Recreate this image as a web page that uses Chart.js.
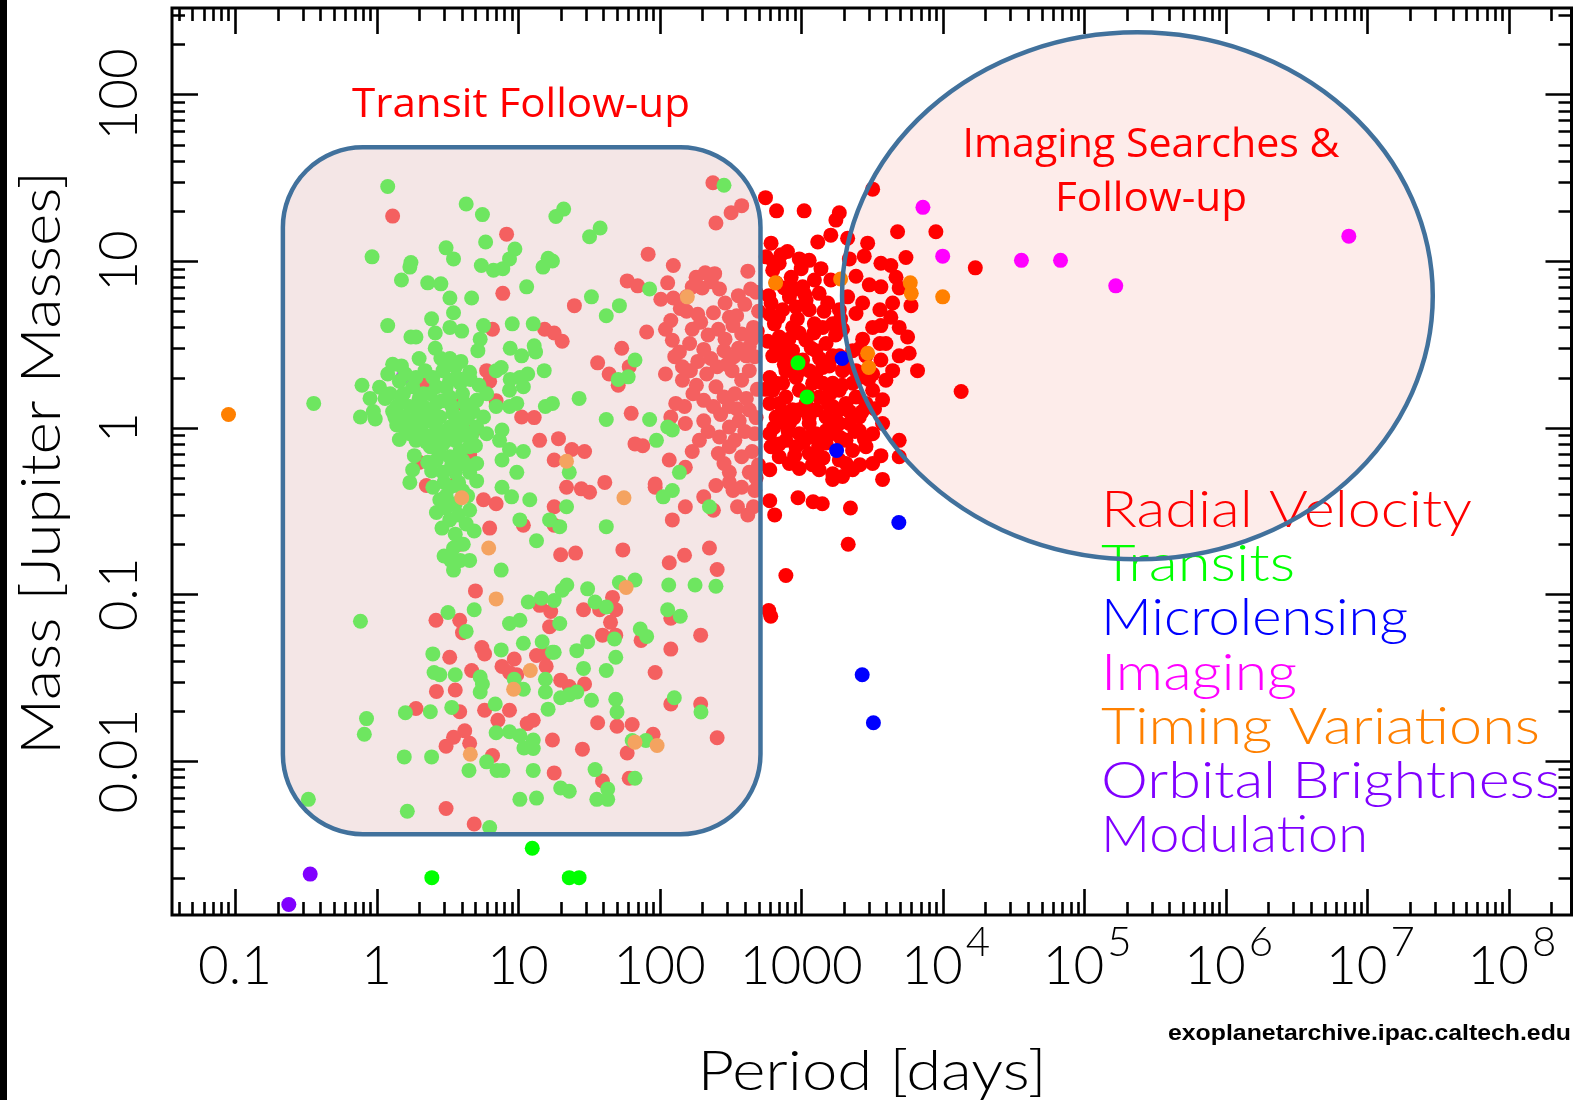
<!DOCTYPE html>
<html>
<head>
<meta charset="utf-8">
<script src="https://cdn.jsdelivr.net/npm/chart.js@4.4.0/dist/chart.umd.min.js"></script>
<style>
  html, body { margin: 0; padding: 0; background: #fff; }
  #wrap { width: 1579px; height: 1100px; }
</style>
</head>
<body>
<div id="wrap"><canvas id="chart" width="1579" height="1100"></canvas></div>
<script>
// [period (days), mass (Jupiter masses)]
const radialVelocity = [
  [560,24],[670,20],[1050,20],[1860,19.5],[1760,17.6],[1620,14.3],[1310,13],[3200,27],[4800,15],[8950,15],
  [5500,10.5],[3660,9.7],[4300,9.4],[2950,12.8],[2790,10.7],[2130,13.7],[2190,10.3],[2440,8.1],[3030,7.2],[3660,7.0],
  [4680,8],[4930,6.9],[5970,5.4],[4300,4.6],[3660,4.1],[4930,4.0],[5650,3.5],[3600,3.2],[2720,3.4],[2440,4.85],
  [2130,6.1],[1620,7.7],[1540,5.6],[1240,7.7],[1025,7.0],[850,8],[760,6.9],[613,12.8],[720,10.9],[800,11.4],
  [970,10.3],[1140,10.1],[630,8.8],[700,9.7],[613,5.6],[740,5.1],[647,4.2],[920,5.3],[1140,5.1],[1240,4.2],
  [1420,4.0],[870,4.0],[970,3.7],[1080,3.35],[1270,2.9],[1500,3.2],[1670,2.7],[1960,2.2],[2310,1.85],[1860,1.68],
  [1500,1.53],[1670,1.34],[2075,1.4],[2440,1.53],[3200,1.68],[3760,1.47],[3970,1.93],[4430,2.2],[3660,2.55],[4930,2.7],
  [5800,2.8],[6640,2.2],[3200,2.1],[2575,2.0],[1270,2.1],[1205,1.85],[780,2.2],[630,2.7],[665,1.85],[780,1.53],
  [600,1.4],[665,1.16],[826,1.06],[970,0.92],[1140,1.06],[1270,1.28],[1860,1.06],[2190,1.06],[1760,0.92],[2075,0.84],
  [2310,0.73],[1860,0.64],[2310,0.56],[1670,0.53],[1140,0.70],[1270,0.67],[920,0.77],[826,0.61],[970,0.57],[3760,1.06],
  [3200,0.92],[4930,0.84],[3660,0.68],[4930,0.67],[3760,0.49],[1670,0.49],[13500,1.65],[600,0.92],[613,0.77],
  [700,3.5],[870,2.9],[1025,2.55],[740,1.85],[970,1.68],[870,1.28],[1080,1.4],[970,2.2],[1420,2.3],[1670,1.85],
  [1270,0.92],[1500,0.81],[700,0.67],[780,0.84],
  [565,10.6],[665,7.4],[826,6.1],[1083,5.8],[1340,6.4],[1860,5.1],[1670,4.2],[1960,3.9],[2310,2.9],[2870,2.7],
  [1860,2.7],[1420,1.85],[1140,2.2],[920,2.0],[780,2.7],[647,3.2],[600,2.0],[630,1.68],[700,1.4],[970,1.28],
  [1340,1.53],[1140,1.16],[1500,1.16],[1860,1.28],[2575,1.16],[2870,1.4],[2575,0.96],[1500,0.96],[1140,0.88],[780,1.06],
  [2075,0.61],[1340,0.56],[2870,0.77],[3200,0.61],[1960,0.51],[2440,2.2],[3970,3.2],[3200,4.0],[2720,5.6],[3600,5.1],
  [4430,5.6],[600,0.365],[650,0.3],[950,0.38],[1215,0.36],[1410,0.35],[2230,0.33],[2150,0.2],[780,0.13],[590,0.08],
  [610,0.074],[17000,9.1],
  [590,6.2],[640,9.8],[690,4.6],[720,3.0],[760,2.4],[820,3.4],[860,2.2],[900,6.8],[940,4.5],[1000,9],
  [1060,6.3],[1180,3.0],[1230,3.7],[1350,2.6],[1380,9],[1450,5.0],[1580,2.35],[1600,1.6],[1700,1.1],[1750,3.6],
  [1900,4.5],[1950,1.8],[2050,2.45],[2200,1.25],[2400,0.95],[2600,3.0],[2700,1.25],[2800,0.85],[3000,1.95],[640,1.0],
  [700,0.8],[740,1.25],[810,0.95],[890,1.15],[900,0.68],[1040,0.82],[1100,1.6],[1200,0.6],[1330,0.78],[1430,0.66],
  [1560,1.38],[1900,0.87],[2600,0.6],[3300,1.3],[560,1.7],[580,3.3],[600,4.8],[600,0.56],
  [1.3,18.6],[8.3,14.5],[7.8,6.4],[6.6,3.9],[15.4,3.9],[18,3.7],[20.5,3.3],[25,5.4],[83,11],[59,7.6],
  [70,7.1],[102,5.9],[125,6.0],[155,6.1],[114,7.4],[125,9.4],[181,8.0],[210,8.5],[245,8.4],[170,7.0],
  [200,6.9],[232,7.5],[265,6.8],[155,5.0],[186,4.8],[250,16.9],[320,19.5],[380,21.5],[238,29.5],[311,4.6],
  [350,4.7],[400,5.5],[460,4.0],[440,6.8],[81,3.75],[110,3.9],[123,3.35],[138,2.85],[163,3.2],[205,2.95],
  [186,2.5],[145,2.32],[128,2.67],[110,2.1],[145,1.93],[182,1.8],[215,2.1],[250,1.76],[172,1.6],[205,1.46],
  [240,1.34],[285,1.53],[311,1.34],[340,1.6],[380,1.93],[430,2.2],[335,2.67],[285,2.9],[430,3.06],[380,3.65],
  [470,2.67],[325,2.2],[255,2.32],[150,1.34],[130,1.4],[120,1.16],[152,1.06],[205,1.1],[311,1.01],[365,1.1],
  [430,1.28],[470,0.92],[340,0.84],[265,0.88],[191,0.84],[380,0.67],[285,0.61],[430,0.54],[311,0.54],[470,0.42],
  [380,0.44],[311,0.47],[205,0.385],[152,0.336],[355,0.336],[460,0.336],[117,0.64],[93,0.44],[123,0.28],[240,0.32],
  [152,0.58],[311,0.77],[36.5,2.45],[44,2.1],[54,3.0],[61,2.32],[51,1.8],[63,1.22],[67,0.8],[76,0.78],
  [93,0.46],[41,0.47],[10.6,1.16],[13,1.15],[14.2,0.84],[19.3,0.86],[24,0.74],[29.5,0.72],[18,0.64],[28,0.43],
  [32,0.41],[22,0.44],[18,0.336],[10.9,0.26],[18,0.26],[6.3,0.25],[5.7,0.37],[7,0.35],[2.25,0.45],[2.0,0.62],
  [4.55,0.69],[4.9,0.97],[4.05,1.4],[2.15,1.85],[6.0,2.2],[6.3,1.9],[7.0,1.45],[3.45,0.45],
  [120,4.4],[140,5.2],[170,3.9],[195,4.3],[220,3.6],[260,3.9],[290,3.4],[330,4.1],[360,3.0],[410,2.7],
  [450,3.4],[490,3.8],[500,5.0],[480,6.5],[420,8.7],[360,6.2],[290,5.6],[240,4.9],[165,2.2],[230,2.6],
  [300,2.4],[270,1.2],[350,1.3],[410,1.5],[490,1.7],[480,1.15],[400,0.95],[220,0.95],[170,0.72],[260,0.7],
  [450,0.72],[500,0.6],[330,0.42],[250,0.45],[420,0.3],[480,0.5],
  [3.87,0.2],[5.0,0.105],[2.63,0.07],[3.87,0.07],[4.05,0.059],[3.29,0.042],[4.7,0.035],[5.55,0.048],[5.8,0.044],[7.7,0.037],
  [9.4,0.041],[8.7,0.034],[9.8,0.033],[14.2,0.086],[17,0.079],[16.7,0.064],[13.5,0.043],[15.8,0.037],[15.6,0.044],[20,0.0306],
  [23,0.028],[29.5,0.029],[29,0.081],[37.7,0.081],[46.5,0.096],[49,0.081],[45,0.068],[39.5,0.057],[49,0.057],[74,0.053],
  [25.5,0.177],[20,0.173],[55,0.185],[117,0.155],[150,0.172],[225,0.19],[255,0.141],[120,0.072],[120,0.047],[195,0.057],
  [93,0.034],[120,0.022],[195,0.022],[255,0.0138],[90,0.0145],[64,0.0166],[50,0.0162],[59,0.0112],[36.5,0.017],[28.5,0.0118],
  [17.5,0.0134],[18,0.0085],[39.5,0.0076],[61,0.0079],[3.6,0.0267],[2.65,0.0262],[1.9,0.0207],[3.87,0.0198],[5.8,0.0202],[7.2,0.0176],
  [3.5,0.0139],[4.55,0.0128],[4.2,0.0152],[3.1,0.0123],[6.6,0.0108],[12.8,0.0176],[11.6,0.0168],[8.7,0.0202],[3.1,0.0052],[4.9,0.0042]
];

const transits = [
  [1.2,28],[4.3,22],[5.6,19],[18.5,18.5],[21,20.5],[38,15.8],[32,14],[0.93,10.6],[1.75,9.8],[1.72,9.2],
  [1.5,7.7],[2.3,7.4],[2.85,7.3],[3.1,12],[3.5,10.3],[5.9,13],[9.5,11.8],[8.7,10.3],[7.8,9.0],[6.7,8.8],
  [5.5,9.4],[11.5,7],[16.3,10.4],[17.5,10],[15,9.2],[3.3,6],[4.7,6],[2.45,4.5],[3.5,4.9],[1.2,4.1],
  [1.75,3.5],[1.9,3.5],[2.6,3.7],[3.3,4],[4,3.8],[5.7,4.1],[5.4,3.4],[5.2,2.9],[9.1,4.2],[12.8,4.2],
  [8.8,3.0],[10.6,2.7],[13.3,2.85],[13,3.1],[7,2.2],[7.6,2.3],[11.7,2.1],[8.8,1.95],[10.3,2.0],[15.3,2.2],
  [1.3,2.4],[1.5,2.35],[1.2,2.1],[0.79,1.8],[0.9,1.5],[0.77,1.16],[0.98,1.13],[0.36,1.4],
  [2.95,2.2],[3.6,2.32],[4.55,2.15],[3.29,1.93],[2.65,1.76],[2.15,1.6],[1.8,1.76],[1.55,1.6],[1.39,1.34],[1.72,1.34],
  [2.15,1.34],[2.65,1.4],[3.29,1.53],[4.05,1.6],[5.1,1.46],[6.0,1.6],[2.8,1.16],[3.45,1.22],[4.3,1.22],[2.25,1.1],
  [1.8,1.1],[1.55,1.16],[1.39,1.04],[1.72,0.92],[2.15,0.92],[2.65,0.97],[3.29,1.01],[4.05,1.01],[5.1,1.01],[6.0,0.92],
  [2.4,0.77],[2.95,0.8],[3.6,0.84],[4.55,0.77],[1.9,0.84],[2.65,0.64],[3.29,0.67],[4.05,0.64],[5.1,0.61],[2.95,0.54],
  [3.6,0.54],[4.55,0.54],[2.5,0.44],[3.29,0.44],[4.05,0.42],[5.1,0.48],[1.8,0.56],[1.72,0.47],[2.8,0.37],[3.6,0.35],
  [4.55,0.32],[3.29,0.28],[4.3,0.265],[3.6,0.23],[7.7,0.97],[7.4,0.84],[8.7,0.74],[10.9,0.72],[7.7,0.64],[9.8,0.54],
  [7.7,0.44],[9.0,0.385],[12.1,0.37],[5.7,1.16],[7.0,1.34],[8.7,1.34],[9.8,1.4],[15.6,1.34],[17.5,1.4],[10.9,1.76],
  [8.7,1.68],[27,1.5],[42,1.12],[85,1.12],[114,1.01],[123,0.97],[95,0.84],[138,0.54],[123,0.42],[106,0.385],
  [67,2.55],[60,2.02],[51,1.95],[33,6.1],[42,4.7],[52,5.4],[85,6.8],[23,0.54],[22,0.336],[16.7,0.28],
  [19.7,0.255],[10.3,0.28],[42,0.255],[225,0.336],[285,28.5],
  [1.45,1.9],[1.6,2.1],[1.9,2.0],[2.2,2.2],[2.5,2.0],[2.0,1.5],[2.4,1.25],[2.9,1.45],[3.1,1.75],[3.9,1.85],
  [3.4,1.35],[2.6,1.05],[3.0,0.95],[3.7,1.1],[4.4,1.15],[4.7,0.9],[3.2,0.85],[2.75,0.72],[3.9,0.73],[4.3,0.6],
  [3.4,0.6],[2.3,0.62],[3.0,0.47],[3.8,0.47],[4.4,0.39],[3.1,0.33],[2.9,0.25],[3.8,0.3],[4.9,0.24],[1.3,1.25],
  [1.25,1.6],[1.5,1.45],[1.95,1.2],[2.0,1.02],[1.6,0.98],[1.45,0.85],[2.25,0.82],[1.35,1.15],[1.15,1.5],[1.05,1.75],
  [0.95,1.25],[2.45,0.55],[3.6,0.65],[4.1,0.9],[4.8,1.25],[5.3,1.8],[4.6,1.95],[3.95,2.5],[2.85,2.6],[2.0,2.6],
  [2.6,3.0],[3.7,2.0],[3.3,2.6],[4.2,1.4],[2.4,1.6],[5.0,0.78],[3.45,0.97],[2.55,0.88],[1.85,0.68],[3.1,0.39],
  [2.65,0.31],[3.5,0.19],[4.1,0.2],[3.0,0.17],[3.9,0.16],
  [13.5,0.21],[3.35,0.16],[3.5,0.14],[4.55,0.16],[7.6,0.14],[0.77,0.069],[3.2,0.078],[4.9,0.081],[4.3,0.06],[2.5,0.044],
  [2.55,0.034],[2.8,0.033],[3.6,0.033],[5.4,0.032],[5.4,0.026],[6.9,0.022],[3.4,0.021],[1.6,0.0195],[2.4,0.0198],[0.85,0.018],
  [0.82,0.0145],[1.57,0.0106],[2.45,0.0106],[4.5,0.0088],[6.0,0.0099],[7.1,0.0088],[7.8,0.0088],[12.8,0.0088],[0.33,0.0059],[1.65,0.005],
  [6.3,0.004],[10.3,0.0059],[13.5,0.006],[20,0.0069],[23,0.0066],[36,0.0059],[43,0.0059],[43,0.0068],[35,0.0089],[8.7,0.067],
  [10.3,0.07],[11.8,0.09],[14.6,0.095],[18,0.092],[20.5,0.106],[22.1,0.114],[31,0.108],[35,0.09],[42,0.084],[52,0.118],
  [67,0.122],[48,0.054],[49,0.042],[31,0.052],[26,0.046],[18,0.045],[19.7,0.067],[73,0.062],[81,0.056],[116,0.114],
  [178,0.114],[250,0.112],[114,0.081],[140,0.074],[29,0.036],[42,0.035],[49,0.0235],[33,0.0232],[26,0.026],[20,0.024],
  [23,0.025],[50,0.0197],[8.7,0.015],[10.3,0.0142],[12.8,0.0134],[11,0.012],[7,0.0148],[12.8,0.0119],[9.4,0.031],[10.9,0.027],
  [15.6,0.026],[15.6,0.031],[16.3,0.0205],[7.6,0.0465],[10.9,0.051],[14.8,0.052],[17.5,0.045],[64,0.0133],[80,0.0133],[127,0.024],
  [196,0.0197],[67,0.0079],[5.6,0.029],
  [2.46,0.002],[12.6,0.003],[23,0.002],[27,0.002],[1100,1.53],[950,2.45]
];

const microlensing = [[1950,2.6],[1780,0.73],[4900,0.27],[2700,0.033],[3240,0.017]];
const imaging = [[7250,21],[10000,10.7],[36000,10.1],[68000,10.1],[167000,7.1],[7400000,14.1]];
const timingVariations = [
  [0.09,1.2],[660,7.4],[5900,7.4],[6000,6.4],[10000,6.1],[1900,7.8],[2950,2.8],[3000,2.3],[157,6.1],[22,0.63],
  [56,0.38],[4.0,0.38],[6.2,0.19],[7.0,0.094],[58,0.11],[12.2,0.035],[9.3,0.027],[4.6,0.011],[96,0.0124],[67,0.013]
];
const orbitalModulation = [[0.24,0.00138],[0.34,0.0021],[1.53,2.0]];

const periodTicks = [0.1, 1, 10, 100, 1000, 1e4, 1e5, 1e6, 1e7, 1e8];
const periodTickLabels = ['0.1', '1', '10', '100', '1000', '10^4', '10^5', '10^6', '10^7', '10^8'];
const massTicks = [0.01, 0.1, 1, 10, 100];
const massTickLabels = ['0.01', '0.1', '1', '10', '100'];

const legendLines = ['Radial Velocity', 'Transits', 'Microlensing', 'Imaging', 'Timing Variations', 'Orbital Brightness', 'Modulation'];
const legendColors = ['#ff0000', '#00ff00', '#0000ff', '#ff00ff', '#ff8000', '#8000ff', '#8000ff'];
const legendWidths = [371, 194, 307, 196, 439, 459, 267];

// highlighted regions, in data units
const transitBox = {pMin: 0.218, pMax: 516, mMin: 0.00364, mMax: 48.1};
const imagingEllipse = {pMin: 1945, pMax: 2.9e7, mMin: 0.1625, mMax: 235.5};

const HERSHEY = '"Lato", "DejaVu Sans", sans-serif';
const CALLOUT = '"Open Sans", "Noto Sans", sans-serif';

function toPoints(rows) {
    return rows.map(r => ({x: r[0], y: r[1]}));
}

function series(rows, color, order) {
    return {
        data: toPoints(rows),
        backgroundColor: color,
        borderWidth: 0,
        pointRadius: 7.5,
        pointHoverRadius: 7.5,
        order: order
    };
}

function stretchText(ctx, text, x, y, width, align) {
    const w = ctx.measureText(text).width;
    ctx.save();
    let left = x;
    if (align === 'center') left = x - width / 2;
    if (align === 'right') left = x - width;
    ctx.translate(left, y);
    ctx.scale(width / w, 1);
    ctx.textAlign = 'left';
    ctx.fillText(text, 0, 0);
    ctx.restore();
}

function regionPixels(chart, r) {
    const xs = chart.scales.x, ys = chart.scales.y;
    return {
        left: xs.getPixelForValue(r.pMin),
        right: xs.getPixelForValue(r.pMax),
        top: ys.getPixelForValue(r.mMax),
        bottom: ys.getPixelForValue(r.mMin)
    };
}

function ellipsePath(ctx, e) {
    ctx.beginPath();
    ctx.ellipse((e.left + e.right) / 2, (e.top + e.bottom) / 2,
        (e.right - e.left) / 2, (e.bottom - e.top) / 2, 0, 0, Math.PI * 2);
}

function roundRectPath(ctx, b, r) {
    ctx.beginPath();
    ctx.moveTo(b.left + r, b.top);
    ctx.arcTo(b.right, b.top, b.right, b.bottom, r);
    ctx.arcTo(b.right, b.bottom, b.left, b.bottom, r);
    ctx.arcTo(b.left, b.bottom, b.left, b.top, r);
    ctx.arcTo(b.left, b.top, b.right, b.top, r);
    ctx.closePath();
}

function drawLogTicks(ctx, scale, horizontal, area) {
    const lo = Math.floor(Math.log10(scale.min));
    const hi = Math.ceil(Math.log10(scale.max));
    ctx.beginPath();
    for (let e = lo; e <= hi; e++) {
        for (let k = 1; k <= 9; k++) {
            const v = k * Math.pow(10, e);
            if (v < scale.min || v > scale.max) continue;
            const len = k === 1 ? 26 : 13;
            const p = Math.round(scale.getPixelForValue(v)) + 0.5;
            if (horizontal) {
                ctx.moveTo(p, area.bottom); ctx.lineTo(p, area.bottom - len);
                ctx.moveTo(p, area.top); ctx.lineTo(p, area.top + len);
            } else {
                ctx.moveTo(area.left, p); ctx.lineTo(area.left + len, p);
                ctx.moveTo(area.right, p); ctx.lineTo(area.right - len, p);
            }
        }
    }
    ctx.stroke();
}

const decorations = {
    id: 'decorations',
    beforeDraw(chart) {
        const ctx = chart.ctx;
        ctx.save();
        ctx.fillStyle = '#ffffff';
        ctx.fillRect(0, 0, chart.width, chart.height);
        ctx.fillStyle = '#000000';
        ctx.fillRect(0, 0, 7, chart.height);
        ctx.restore();
    },
    beforeDatasetsDraw(chart) {
        const ctx = chart.ctx;
        ctx.save();
        ellipsePath(ctx, regionPixels(chart, imagingEllipse));
        ctx.fillStyle = '#fdecea';
        ctx.fill();
        ctx.restore();
    },
    afterDatasetsDraw(chart) {
        const ctx = chart.ctx;
        const area = chart.chartArea;
        const xs = chart.scales.x, ys = chart.scales.y;
        ctx.save();

        // transit follow-up box sits over the points
        const box = regionPixels(chart, transitBox);
        roundRectPath(ctx, box, 80);
        ctx.fillStyle = 'rgba(232,202,202,0.475)';
        ctx.fill();
        ctx.lineWidth = 4.5;
        ctx.strokeStyle = '#41719c';
        ctx.stroke();

        // legend written as coloured text
        ctx.font = '300 51px ' + HERSHEY;
        ctx.textBaseline = 'alphabetic';
        legendLines.forEach((t, i) => {
            ctx.fillStyle = legendColors[i];
            stretchText(ctx, t, 1101, 527 + i * 54.2, legendWidths[i], 'left');
        });

        ellipsePath(ctx, regionPixels(chart, imagingEllipse));
        ctx.lineWidth = 4.5;
        ctx.strokeStyle = '#41719c';
        ctx.stroke();

        // frame and inward ticks
        ctx.strokeStyle = '#000000';
        ctx.lineWidth = 3;
        ctx.strokeRect(area.left, area.top, area.right - area.left, area.bottom - area.top);
        ctx.lineWidth = 2.6;
        drawLogTicks(ctx, xs, true, area);
        drawLogTicks(ctx, ys, false, area);

        // tick labels
        ctx.fillStyle = '#000000';
        ctx.textBaseline = 'alphabetic';
        periodTicks.forEach((v, i) => {
            const x = xs.getPixelForValue(v);
            const parts = periodTickLabels[i].split('^');
            ctx.font = '300 53px ' + HERSHEY;
            if (parts.length === 1) {
                ctx.textAlign = 'center';
                ctx.fillText(parts[0], x, 984);
            } else {
                const wb = ctx.measureText(parts[0]).width;
                ctx.font = '300 42px ' + HERSHEY;
                const we = ctx.measureText(parts[1]).width;
                const start = x - (wb + we + 3) / 2 + 3;
                ctx.textAlign = 'left';
                ctx.font = '300 53px ' + HERSHEY;
                ctx.fillText(parts[0], start, 984);
                ctx.font = '300 42px ' + HERSHEY;
                ctx.fillText(parts[1], start + wb + 3, 956);
            }
        });
        ctx.font = '300 53px ' + HERSHEY;
        massTicks.forEach((v, i) => {
            const y = ys.getPixelForValue(v);
            ctx.save();
            ctx.translate(137, y);
            ctx.rotate(-Math.PI / 2);
            ctx.textAlign = 'center';
            ctx.fillText(massTickLabels[i], 0, 0);
            ctx.restore();
        });

        // axis titles
        ctx.font = '300 56px ' + HERSHEY;
        stretchText(ctx, 'Period [days]', 872, 1090, 349, 'center');
        ctx.save();
        ctx.translate(60, 463);
        ctx.rotate(-Math.PI / 2);
        stretchText(ctx, 'Mass [Jupiter Masses]', 0, 0, 584, 'center');
        ctx.restore();

        ctx.font = 'bold 22px "Liberation Sans", Arial, sans-serif';
        stretchText(ctx, 'exoplanetarchive.ipac.caltech.edu', 1571, 1040, 403, 'right');

        // callouts
        ctx.fillStyle = '#ff0000';
        ctx.font = '41px ' + CALLOUT;
        stretchText(ctx, 'Transit Follow-up', 521, 117, 338, 'center');
        stretchText(ctx, 'Imaging Searches &', 1151, 157, 377, 'center');
        stretchText(ctx, 'Follow-up', 1151, 211, 192, 'center');

        ctx.restore();
    }
};

new Chart(document.getElementById('chart'), {
    type: 'scatter',
    data: {
        datasets: [
            series(timingVariations, '#ff8000', 1),
            series(imaging, '#ff00ff', 2),
            series(microlensing, '#0000ff', 3),
            series(transits, '#00ff00', 4),
            series(radialVelocity, '#ff0000', 5),
            series(orbitalModulation, '#8000ff', 6)
        ]
    },
    options: {
        responsive: false,
        animation: false,
        events: [],
        layout: {padding: {left: 172, right: 6, top: 8, bottom: 185}},
        plugins: {legend: {display: false}, tooltip: {enabled: false}},
        scales: {
            x: {type: 'logarithmic', min: 0.0359, max: 2.77e8, bounds: 'data', display: false},
            y: {type: 'logarithmic', min: 0.001194, max: 329.6, bounds: 'data', display: false}
        }
    },
    plugins: [decorations]
});
</script>
</body>
</html>
